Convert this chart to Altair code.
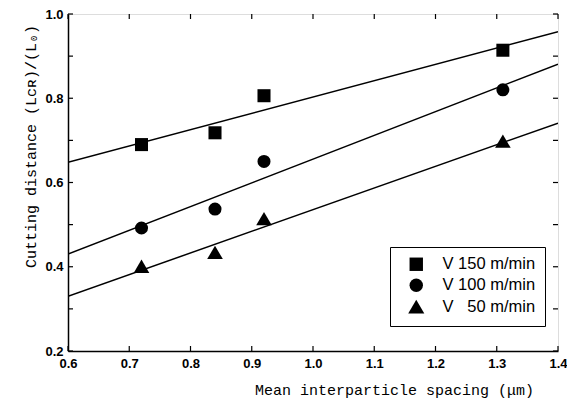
import altair as alt
import pandas as pd

# ---- data ----
spacing = [0.72, 0.84, 0.92, 1.31]
series_names = ["V 150 m/min", "V 100 m/min", "V \u200750 m/min"]
v150 = [0.690, 0.718, 0.806, 0.914]
v100 = [0.492, 0.537, 0.650, 0.820]
v50 = [0.400, 0.433, 0.513, 0.697]

# fitted lines (value at x = 0.6 and x = 1.4)
fit_x = [0.6, 1.4]
fit150 = [0.648, 0.958]
fit100 = [0.430, 0.881]
fit50 = [0.330, 0.741]

x_ticks = [0.6, 0.7, 0.8, 0.9, 1.0, 1.1, 1.2, 1.3, 1.4]
y_ticks = [0.2, 0.3, 0.4, 0.5, 0.6, 0.7, 0.8, 0.9, 1.0]

W, H = 490, 337

rows = []
for name, vals in zip(series_names, [v150, v100, v50]):
    for x, y in zip(spacing, vals):
        rows.append({"x": x, "y": y, "series": name})
pts = pd.DataFrame(rows)

lrows = []
for name, vals in zip(series_names, [fit150, fit100, fit50]):
    for x, y in zip(fit_x, vals):
        lrows.append({"x": x, "y": y, "series": name})
lines_df = pd.DataFrame(lrows)

xs = alt.Scale(domain=[0.6, 1.4], nice=False, zero=False)
ys = alt.Scale(domain=[0.2, 1.0], nice=False, zero=False)

x_axis = alt.Axis(
    values=x_ticks, format=".1f", ticks=False, grid=False,
    labelFont="Liberation Sans", labelFontWeight="bold", labelFontSize=13,
    labelColor="black", labelPadding=6, labelFlush=False, labelOverlap=False,
    domainColor="black", domainWidth=1.5,
    title="Mean interparticle spacing (\u03bcm)", titleFont="Liberation Mono",
    titleFontSize=15, titleFontWeight="normal", titleColor="black",
    titleX=326, titleY=38, titleAlign="center", titleBaseline="middle",
)
y_axis = alt.Axis(
    values=[0.2, 0.4, 0.6, 0.8, 1.0], format=".1f", ticks=False, grid=False,
    labelFont="Liberation Sans", labelFontWeight="bold", labelFontSize=13,
    labelColor="black", labelPadding=5, labelFlush=False, labelOverlap=False,
    domainColor="black", domainWidth=1.5,
    title="Cutting distance (L\u1d04\u0280)/(L\u2080)", titleFont="Liberation Mono",
    titleFontSize=15, titleFontWeight="normal", titleColor="black",
    titleX=-38, titleY=132, titleAngle=-90, titleAlign="center", titleBaseline="middle",
)

big_triangle = "M0,-1.1L1.2,0.95L-1.2,0.95Z"
shape_scale = alt.Scale(domain=series_names, range=["square", "circle", big_triangle])

lines = alt.Chart(lines_df).mark_line(color="black", strokeWidth=1.5, clip=True).encode(
    x=alt.X("x:Q", scale=xs, axis=x_axis),
    y=alt.Y("y:Q", scale=ys, axis=y_axis),
    detail="series:N",
)

points = alt.Chart(pts).mark_point(filled=True, color="black", size=170, opacity=1).encode(
    x=alt.X("x:Q", scale=xs),
    y=alt.Y("y:Q", scale=ys),
    shape=alt.Shape("series:N", scale=shape_scale, legend=alt.Legend(
        title=None, orient="none", legendX=322, legendY=233,
        strokeColor="black", fillColor="white", padding=9,
        labelFont="Liberation Sans", labelFontSize=16.5, labelColor="black",
        symbolSize=180, symbolFillColor="black", symbolStrokeColor="black",
        symbolOpacity=1, symbolOffset=9, labelOffset=18, rowPadding=1, labelLimit=300,
    )),
)

xt = pd.DataFrame({"v": x_ticks})
yt = pd.DataFrame({"v": y_ticks})

bottom_ticks = alt.Chart(xt).mark_rule(color="black", strokeWidth=1.2).encode(
    x=alt.X("v:Q", scale=xs), y=alt.value(H), y2=alt.value(H - 5))
top_ticks = alt.Chart(xt).mark_rule(color="black", strokeWidth=1.2).encode(
    x=alt.X("v:Q", scale=xs), y=alt.value(0), y2=alt.value(5))
left_ticks = alt.Chart(yt).mark_rule(color="black", strokeWidth=1.2).encode(
    y=alt.Y("v:Q", scale=ys), x=alt.value(0), x2=alt.value(5))
right_ticks = alt.Chart(yt).mark_rule(color="black", strokeWidth=1.2).encode(
    y=alt.Y("v:Q", scale=ys), x=alt.value(W), x2=alt.value(W - 5))

chart = alt.layer(lines, points, bottom_ticks, top_ticks, left_ticks, right_ticks).properties(
    width=W, height=H,
    autosize=alt.AutoSizeParams(type="none"),
    padding={"left": 60, "top": 6, "right": 9, "bottom": 50},
).configure_view(stroke="black", strokeWidth=1.5).configure_legend(
    strokeWidth=1.5
).configure(background="white")

chart.save("out.html", embed_options={"renderer": "svg", "actions": False})
